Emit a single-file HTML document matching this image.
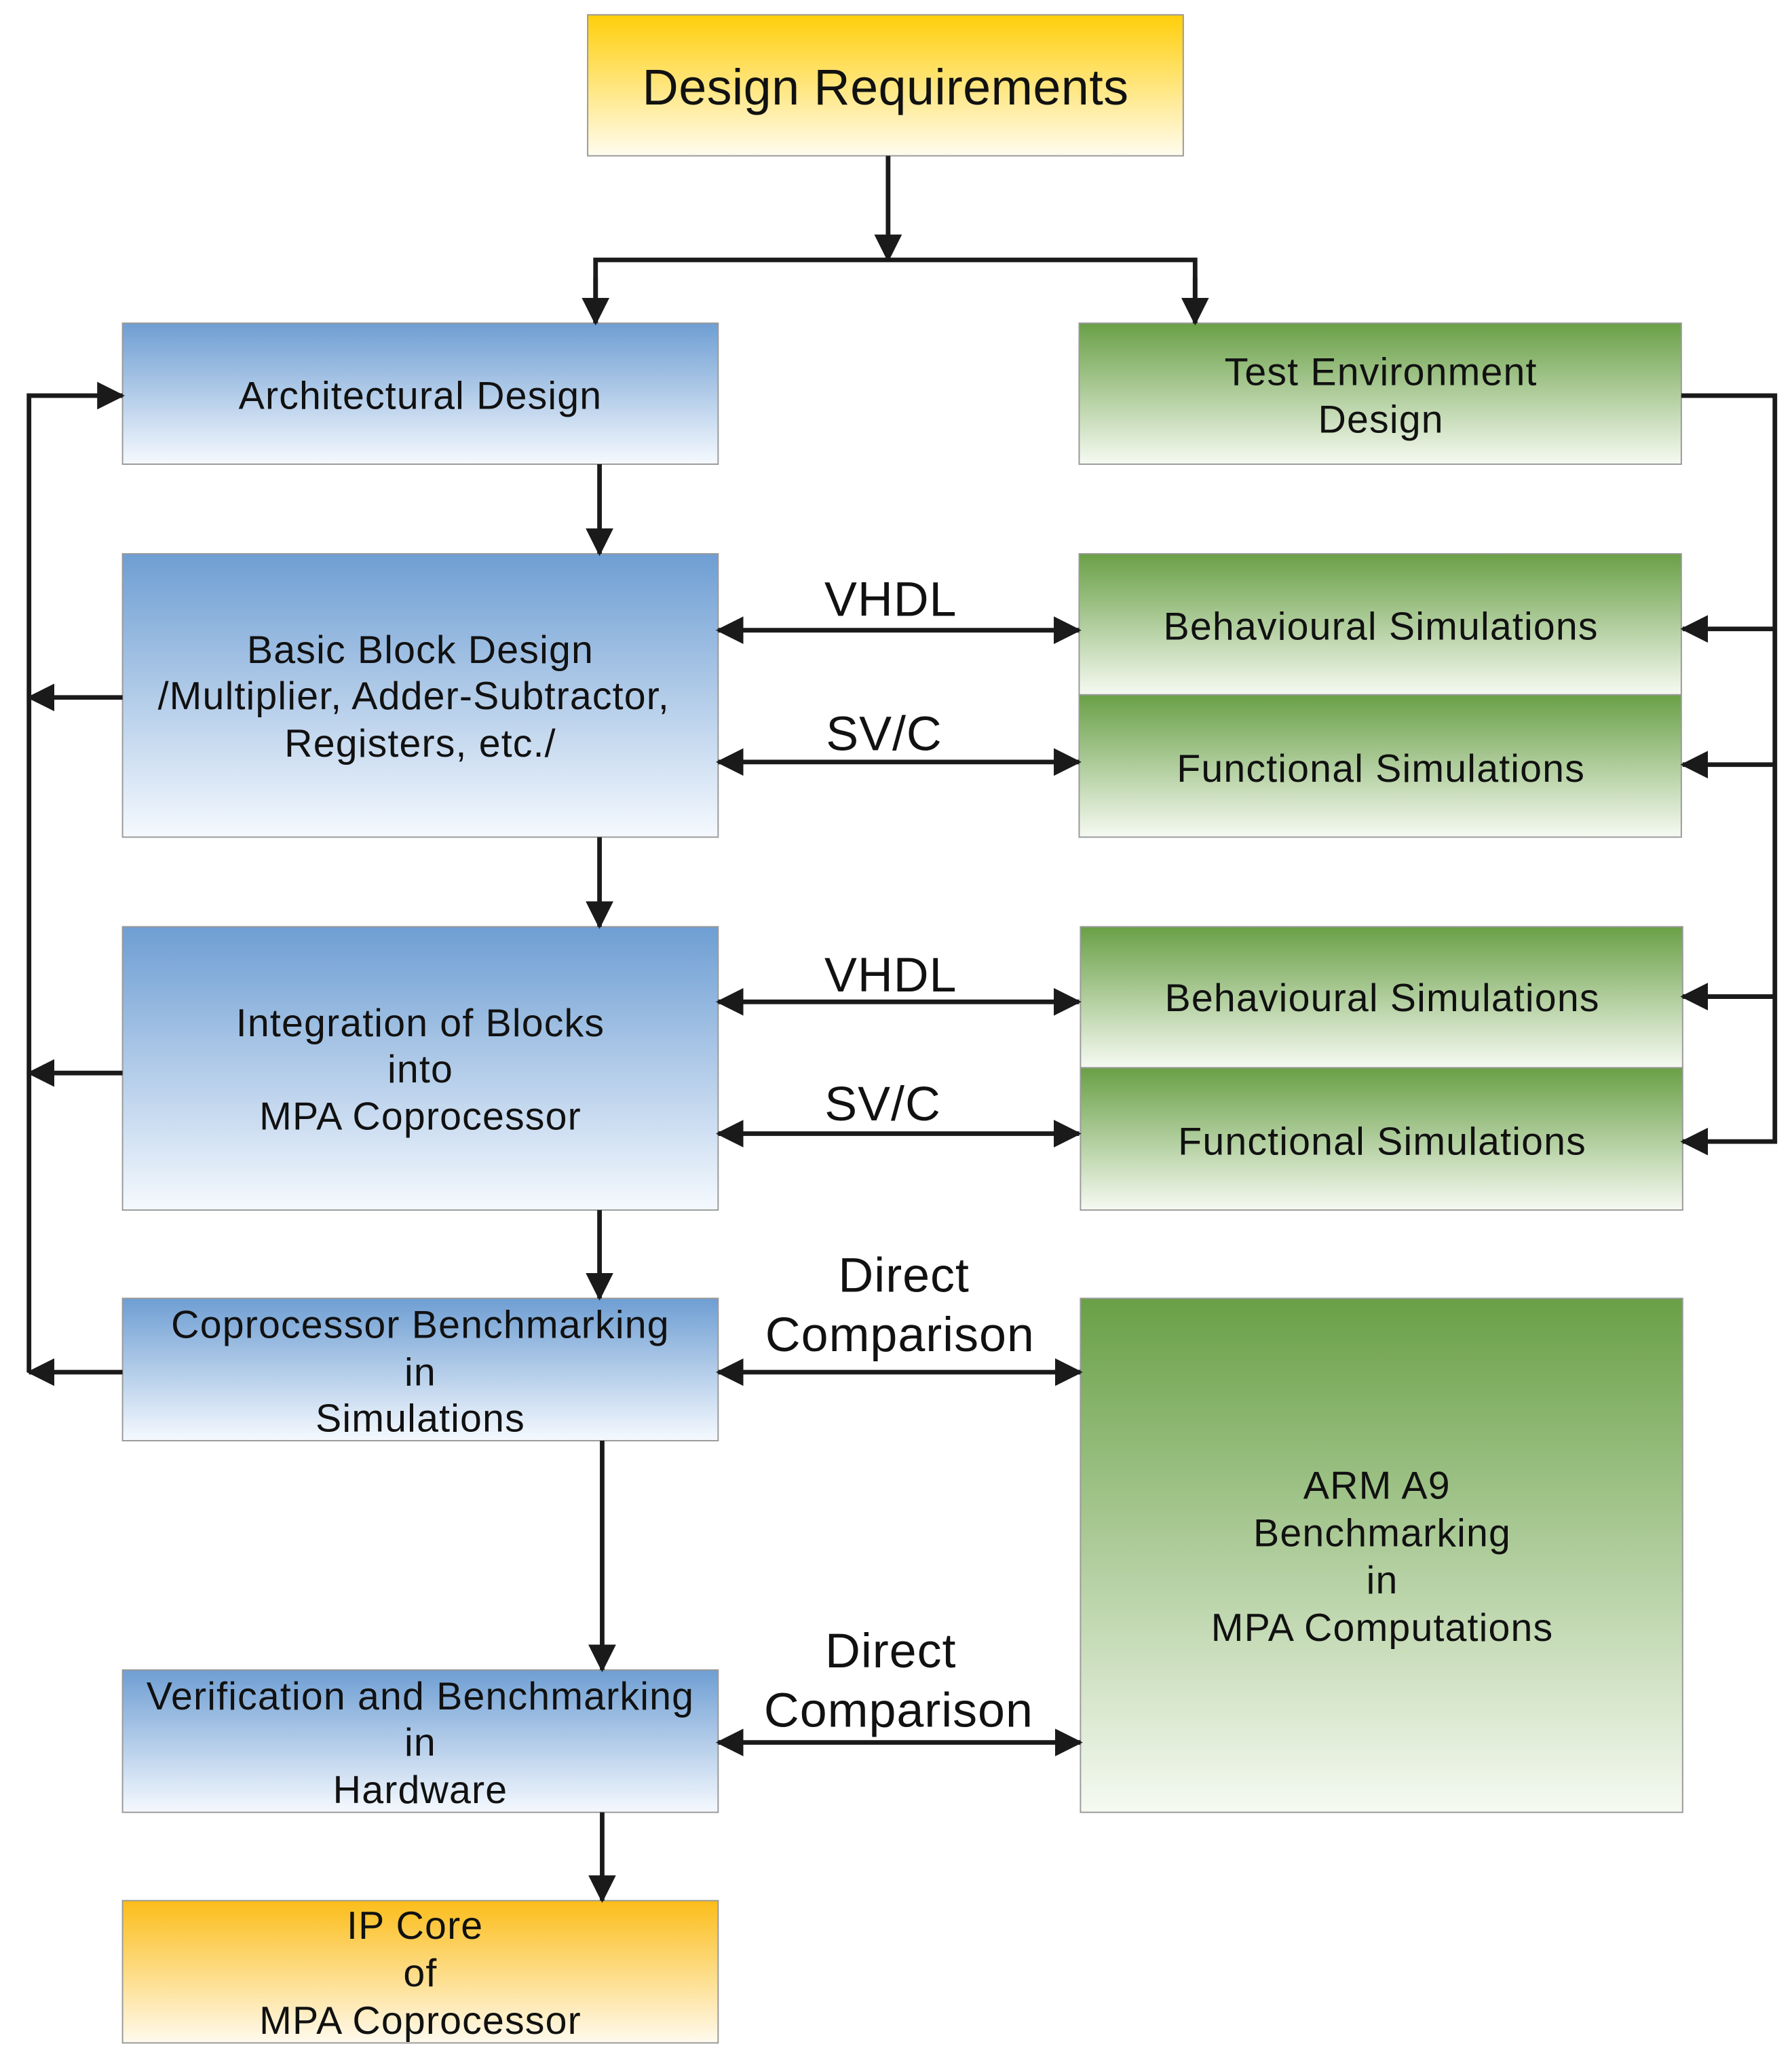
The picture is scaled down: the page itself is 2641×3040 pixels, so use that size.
<!DOCTYPE html>
<html><head><meta charset="utf-8"><style>html,body{margin:0;padding:0;background:#fff}svg{display:block}</style></head>
<body>
<svg width="2641" height="3040" viewBox="0 0 1360 1565" xmlns="http://www.w3.org/2000/svg" font-family="'Liberation Sans', sans-serif">
<defs>
<linearGradient id="gold" x1="0" y1="0" x2="0" y2="1"><stop offset="0" stop-color="#ffcf0a"/><stop offset="1" stop-color="#fffcef"/></linearGradient>
<linearGradient id="orange" x1="0" y1="0" x2="0" y2="1"><stop offset="0" stop-color="#fbbd1a"/><stop offset="1" stop-color="#fffaee"/></linearGradient>
<linearGradient id="blue" x1="0" y1="0" x2="0" y2="1"><stop offset="0" stop-color="#6e9ed3"/><stop offset="1" stop-color="#f5f9fe"/></linearGradient>
<linearGradient id="green" x1="0" y1="0" x2="0" y2="1"><stop offset="0" stop-color="#69a046"/><stop offset="1" stop-color="#f6faf2"/></linearGradient>
<marker id="ah" markerWidth="6" markerHeight="6" refX="5.5" refY="3" orient="auto-start-reverse" markerUnits="strokeWidth"><path d="M0,0 L6,3 L0,6 z" fill="#1a1a1a"/></marker>
</defs>
<g stroke="#999" stroke-width="1">
<rect x="446" y="11" width="452" height="107" fill="url(#gold)"/>
<rect x="93" y="245" width="452" height="107" fill="url(#blue)"/>
<rect x="819" y="245" width="457" height="107" fill="url(#green)"/>
<rect x="93" y="420" width="452" height="215" fill="url(#blue)"/>
<rect x="819" y="420" width="457" height="107" fill="url(#green)"/>
<rect x="819" y="527" width="457" height="108" fill="url(#green)"/>
<rect x="93" y="703" width="452" height="215" fill="url(#blue)"/>
<rect x="820" y="703" width="457" height="107" fill="url(#green)"/>
<rect x="820" y="810" width="457" height="108" fill="url(#green)"/>
<rect x="93" y="985" width="452" height="108" fill="url(#blue)"/>
<rect x="820" y="985" width="457" height="390" fill="url(#green)"/>
<rect x="93" y="1267" width="452" height="108" fill="url(#blue)"/>
<rect x="93" y="1442" width="452" height="108" fill="url(#orange)"/>
</g>
<g fill="none" stroke="#1a1a1a" stroke-width="3.5">
<path d="M674,118 V197" marker-end="url(#ah)"/>
<path d="M452,245 V197 H907 V245" />
<path d="M452,210 V245" marker-end="url(#ah)"/>
<path d="M907,210 V245" marker-end="url(#ah)"/>
<path d="M455,352 V420" marker-end="url(#ah)"/>
<path d="M455,635 V703" marker-end="url(#ah)"/>
<path d="M455,918 V985" marker-end="url(#ah)"/>
<path d="M457,1093 V1267" marker-end="url(#ah)"/>
<path d="M457,1375 V1442" marker-end="url(#ah)"/>
<path d="M22,1041 V300 H93" marker-end="url(#ah)"/>
<path d="M93,529 H22" marker-end="url(#ah)"/>
<path d="M93,814 H22" marker-end="url(#ah)"/>
<path d="M93,1041 H22" marker-end="url(#ah)"/>
<path d="M1276,300 H1347 V866 H1277" marker-end="url(#ah)"/>
<path d="M1347,477 H1277" marker-end="url(#ah)"/>
<path d="M1347,580 H1277" marker-end="url(#ah)"/>
<path d="M1347,756 H1277" marker-end="url(#ah)"/>
<path d="M545,478 H819" marker-start="url(#ah)" marker-end="url(#ah)"/>
<path d="M545,578 H819" marker-start="url(#ah)" marker-end="url(#ah)"/>
<path d="M545,760 H819" marker-start="url(#ah)" marker-end="url(#ah)"/>
<path d="M545,860 H819" marker-start="url(#ah)" marker-end="url(#ah)"/>
<path d="M545,1041 H820" marker-start="url(#ah)" marker-end="url(#ah)"/>
<path d="M545,1322 H820" marker-start="url(#ah)" marker-end="url(#ah)"/>
</g>
<g fill="#111" text-anchor="middle" font-size="29.5" letter-spacing="0.6">
<text x="672" y="79" font-size="38" letter-spacing="0.2">Design Requirements</text>
<text x="319" y="310">Architectural Design</text>
<text x="1048" y="292">Test Environment</text>
<text x="1048" y="328">Design</text>
<text x="319" y="503">Basic Block Design</text>
<text x="314" y="538">/Multiplier, Adder-Subtractor,</text>
<text x="319" y="574">Registers, etc./</text>
<text x="1048" y="485">Behavioural Simulations</text>
<text x="1048" y="593">Functional Simulations</text>
<text x="319" y="786">Integration of Blocks</text>
<text x="319" y="821">into</text>
<text x="319" y="857">MPA Coprocessor</text>
<text x="1049" y="767">Behavioural Simulations</text>
<text x="1049" y="876">Functional Simulations</text>
<text x="319" y="1015">Coprocessor Benchmarking</text>
<text x="319" y="1051">in</text>
<text x="319" y="1086">Simulations</text>
<text x="1045" y="1137">ARM A9</text>
<text x="1049" y="1173">Benchmarking</text>
<text x="1049" y="1209">in</text>
<text x="1049" y="1245">MPA Computations</text>
<text x="319" y="1297">Verification and Benchmarking</text>
<text x="319" y="1332">in</text>
<text x="319" y="1368">Hardware</text>
<text x="315" y="1471">IP Core</text>
<text x="319" y="1507">of</text>
<text x="319" y="1543">MPA Coprocessor</text>
<g font-size="37" letter-spacing="0.5">
<text x="676" y="467">VHDL</text>
<text x="671" y="569">SV/C</text>
<text x="676" y="752">VHDL</text>
<text x="670" y="850">SV/C</text>
<text x="686" y="980">Direct</text>
<text x="683" y="1025">Comparison</text>
<text x="676" y="1265">Direct</text>
<text x="682" y="1310">Comparison</text>
</g>
</g>
</svg>
</body></html>
